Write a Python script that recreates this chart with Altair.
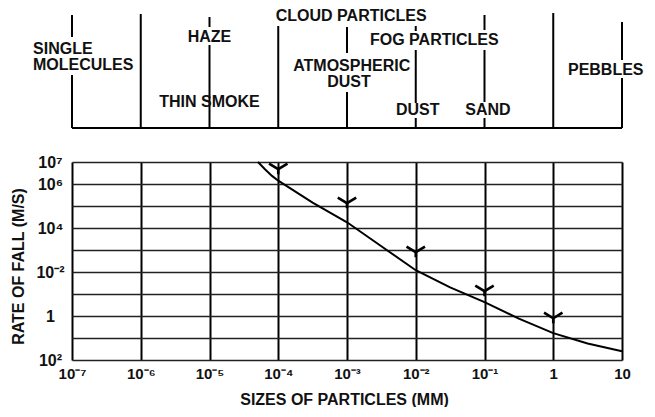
import json
import altair as alt
import pandas as pd

# ---------------- data ----------------
# particle size (mm) along the falling-rate curve, and rate of fall (m/s)
curve_size = [5.07e-5, 6.41e-5, 8.11e-5, 1e-4, 3.16e-4, 1e-3, 3.16e-3, 1e-2,
              3.16e-2, 0.1, 0.316, 1.0, 3.16, 10.0]
curve_rate = [1.0e7, 4.68e6, 2.34e6, 1.41e6, 1.41e5, 1.82e4, 1.48e3, 120.0,
              20.0, 4.27, 0.76, 0.166, 0.056, 0.025]

# "Y" shaped markers above the curve
marker_size = [1e-4, 1e-3, 1e-2, 0.1, 1.0]
marker_rate = [4.7e6, 1.35e5, 794.0, 13.5, 0.79]

# axis ticks and their printed labels
x_ticks = [1e-7, 1e-6, 1e-5, 1e-4, 1e-3, 1e-2, 1e-1, 1, 10]
x_labels = ["10⁻⁷", "10⁻⁶", "10⁻⁵", "10⁻⁴", "10⁻³", "10⁻²", "10⁻¹", "1", "10"]
y_ticks = [1e-2, 1e-1, 1, 10, 1e2, 1e3, 1e4, 1e5, 1e6, 1e7]
y_labels = ["10²", "", "1", "", "10⁻²", "", "10⁴", "", "10⁶", "10⁷"]

# category diagram above the chart
boundaries = [1e-7, 1e-6, 1e-5, 1e-4, 1e-3, 1e-2, 1e-1, 1, 10]
cat_center = ["HAZE", "THIN SMOKE", "CLOUD PARTICLES", "ATMOSPHERIC", "DUST",
              "FOG PARTICLES", "DUST", "SAND", "PEBBLES"]
cat_center_size = [1e-5, 1e-5, 1.15e-3, 1.17e-3, 1.07e-3, 0.0186, 0.0107, 0.112, 5.8]
cat_left = ["SINGLE", "MOLECULES"]
cat_left_size = [2.71e-8, 2.71e-8]

# ---------------- layout (page-pixel rows of the diagram) ----------------
center_rows = [37, 102, 16, 66, 82, 40, 110, 110, 70]
left_rows = [49, 65]
segments = {
    0: [(15, 37), (75, 128)],
    1: [(14, 128)],
    2: [(17, 27), (45, 128)],
    3: [(26, 128)],
    4: [(27, 53), (92, 128)],
    5: [(26, 31), (50, 103), (118, 128)],
    6: [(15, 30), (50, 102), (118, 128)],
    7: [(13, 128)],
    8: [(22, 60), (78, 128)],
}
BASE_ROW = 128
PLOT_TOP = 162

FONT = "Liberation Sans"
WEIGHT = "bold"

curve_df = pd.DataFrame({"size": curve_size, "rate": curve_rate})
marker_df = pd.DataFrame({"size": marker_size, "rate": marker_rate})
seg_rows = []
for i, spans in segments.items():
    for a, b in spans:
        seg_rows.append({"size": boundaries[i], "y1": a, "y2": b})
seg_df = pd.DataFrame(seg_rows)
base_df = pd.DataFrame({"size": [boundaries[0]], "size2": [boundaries[-1]], "y": [BASE_ROW]})
center_df = pd.DataFrame({"size": cat_center_size, "ypos": center_rows, "text": cat_center})
left_df = pd.DataFrame({"size": cat_left_size, "ypos": left_rows, "text": cat_left})

x_scale = alt.Scale(type="log", domain=[1e-7, 10], nice=False)
y_scale = alt.Scale(type="log", domain=[1e-2, 1e7], nice=False)
top_scale = alt.Scale(domain=[0, PLOT_TOP], range=[-PLOT_TOP, 0], nice=False, zero=False)

x_expr = json.dumps(x_labels, ensure_ascii=False) + "[round(log(datum.value)/LN10) + 7]"
y_expr = json.dumps(y_labels, ensure_ascii=False) + "[round(log(datum.value)/LN10) + 2]"

x_axis = alt.Axis(
    values=x_ticks, labelExpr=x_expr, grid=True, gridColor="black", gridWidth=2,
    ticks=False, tickSize=0, domain=False, labelFlush=False, labelPadding=6,
    labelFontSize=15, labelColor="#111", labelFont=FONT, labelFontWeight=WEIGHT,
    title="SIZES OF PARTICLES (MM)", titleFont=FONT, titleFontSize=16,
    titleFontWeight=WEIGHT, titleColor="#111", titleX=272, titleY=44,
    titleAlign="center", titleBaseline="alphabetic",
)
y_axis = alt.Axis(
    values=y_ticks, labelExpr=y_expr, grid=True, gridColor="#222", gridWidth=1.6,
    ticks=False, tickSize=0, domain=False, labelFlush=True, labelAlign="center",
    labelBaseline="middle", labelPadding=22, labelFontSize=16, labelColor="#111",
    labelFont=FONT, labelFontWeight=WEIGHT,
    title="RATE OF FALL (M/S)", titleFont=FONT, titleFontSize=16,
    titleFontWeight=WEIGHT, titleColor="#111", titleAngle=270, titleX=-54,
    titleY=104, titleAlign="center", titleBaseline="middle",
)

X = alt.X("size:Q", scale=x_scale, axis=x_axis)

curve = alt.Chart(curve_df).mark_line(
    color="black", strokeWidth=2, interpolate="linear"
).encode(x=X, y=alt.Y("rate:Q", scale=y_scale, axis=y_axis))

marker_path = "M -1 -0.6 L 0 0 L 1 -0.6 M 0 0 L 0 0.55"
markers = alt.Chart(marker_df).mark_point(
    shape=marker_path, filled=False, size=340, stroke="black", strokeWidth=2.6, opacity=1
).encode(x=X, y=alt.Y("rate:Q", scale=y_scale, axis=y_axis))

plot = alt.layer(curve, markers)

seg_layer = alt.Chart(seg_df).mark_rule(color="black", strokeWidth=2).encode(
    x=X, y=alt.Y("y1:Q", scale=top_scale, axis=None), y2="y2:Q"
)
base_layer = alt.Chart(base_df).mark_rule(color="black", strokeWidth=2).encode(
    x=X, x2="size2:Q", y=alt.Y("y:Q", scale=top_scale, axis=None)
)
center_text = alt.Chart(center_df).mark_text(
    font=FONT, fontSize=16, fontWeight=WEIGHT, color="#111", align="center", baseline="middle"
).encode(x=X, y=alt.Y("ypos:Q", scale=top_scale, axis=None), text="text:N")
left_text = alt.Chart(left_df).mark_text(
    font=FONT, fontSize=16, fontWeight=WEIGHT, color="#111", align="left", baseline="middle"
).encode(x=X, y=alt.Y("ypos:Q", scale=top_scale, axis=None), text="text:N")

diagram = alt.layer(seg_layer, base_layer, center_text, left_text)

chart = alt.layer(plot, diagram).resolve_scale(y="independent").properties(
    width=550,
    height=198,
    autosize=alt.AutoSizeParams(type="none"),
    padding={"left": 64, "top": 154, "right": 25, "bottom": 47},
    background="white",
).configure_view(stroke="black", strokeWidth=2).configure(font=FONT)

chart.save("out.html", embed_options={"renderer": "svg", "actions": False})
